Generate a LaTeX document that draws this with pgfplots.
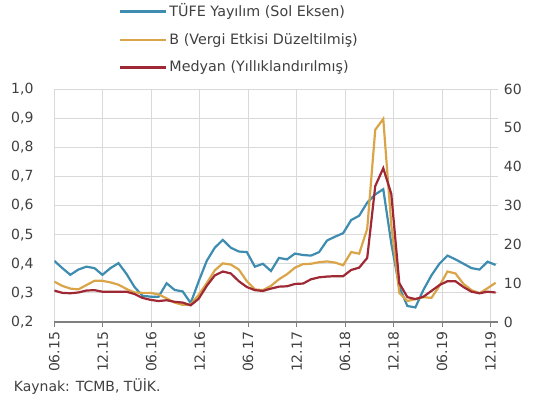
\documentclass[border=0pt]{standalone}
\usepackage{fontspec}
\setmainfont{DejaVu Sans}
\usepackage{pgfplots}
\pgfplotsset{compat=1.18}
\definecolor{cblue}{RGB}{62,140,176}
\definecolor{corange}{RGB}{218,165,72}
\definecolor{cred}{RGB}{158,40,52}
\definecolor{cgrid}{RGB}{217,217,217}
\definecolor{caxis}{RGB}{128,128,128}
\definecolor{ctext}{RGB}{64,64,64}
\begin{document}
\fontsize{14bp}{17bp}\selectfont
\begin{tikzpicture}
\useasboundingbox (0,0) rectangle (537bp,405bp);
\pgfplotsset{
  common/.style={
    at={(54.3bp,83bp)}, anchor=south west,
    scale only axis, width=443.7bp, height=233bp,
    xmin=0, xmax=55.3,
    /pgf/number format/assume math mode=true,
    tick label style={font=\fontsize{14bp}{17bp}\selectfont, text=ctext},
  }
}
\begin{axis}[
  common,
  ymin=0.2, ymax=1.0,
  ytick={0.2,0.3,0.4,0.5,0.6,0.7,0.8,0.9,1.0},
  /pgf/number format/fixed, /pgf/number format/fixed zerofill,
  /pgf/number format/precision=1, /pgf/number format/use comma,
  yticklabel style={xshift=-11bp},
  xtick={0,6.04,12.08,18.12,24.16,30.2,36.24,42.28,48.32,54.36},
  xticklabels={06.15,12.15,06.16,12.16,06.17,12.17,06.18,12.18,06.19,12.19},
  xticklabel style={rotate=90, anchor=east},
  axis x line*=bottom, axis y line*=left,
  x axis line style={caxis, line width=1.2bp, -},
  y axis line style={draw=none},
  ytick style={draw=none},
  xtick style={caxis, line width=1bp},
  tick align=outside, major tick length=5bp,
  grid=major, major grid style={cgrid, line width=0.9bp},
  legend style={at={(axis description cs:0.146,1.375)}, anchor=north west,
    draw=none, fill=none, inner sep=0pt, row sep=10.5bp,
    cells={anchor=west}, font=\fontsize{14.3bp}{17bp}\selectfont, text=ctext,
    /tikz/every even column/.append style={column sep=4bp}},
  legend image code/.code={\draw[#1] (0bp,0bp) -- (46bp,0bp);},
]
\addplot[cblue, line width=2.2bp] coordinates {
(0,0.41) (1,0.385) (2,0.362) (3,0.38) (4,0.39) (5,0.385) (6,0.362) (7,0.385)
(8,0.402) (9,0.365) (10,0.32) (11,0.29) (12,0.287) (13,0.287) (14,0.333) (15,0.31)
(16,0.305) (17,0.265) (18,0.34) (19,0.41) (20,0.455) (21,0.482) (22,0.455) (23,0.442)
(24,0.44) (25,0.39) (26,0.40) (27,0.375) (28,0.42) (29,0.415) (30,0.435) (31,0.43)
(32,0.428) (33,0.44) (34,0.48) (35,0.493) (36,0.505) (37,0.55) (38,0.565) (39,0.61)
(40,0.638) (41,0.656) (42,0.47) (43,0.32) (44,0.255) (45,0.25) (46,0.31) (47,0.36)
(48,0.40) (49,0.428) (50,0.415) (51,0.40) (52,0.385) (53,0.38) (54,0.407) (55,0.396)
};
\addlegendentry{TÜFE Yayılım (Sol Eksen)}
\addlegendimage{corange, line width=2.2bp}
\addlegendentry{B (Vergi Etkisi Düzeltilmiş)}
\addlegendimage{cred, line width=2.2bp}
\addlegendentry{Medyan (Yıllıklandırılmış)}
\end{axis}
\begin{axis}[
  common,
  ymin=0, ymax=60,
  ytick={0,10,20,30,40,50,60},
  yticklabel style={xshift=1bp},
  axis x line=none, axis y line*=right,
  y axis line style={draw=none},
  ytick style={draw=none},
  xtick=\empty,
]
\addplot[corange, line width=2.2bp] coordinates {
(0,10.4) (1,9.3) (2,8.6) (3,8.4) (4,9.5) (5,10.6) (6,10.6) (7,10.2)
(8,9.6) (9,8.5) (10,7.6) (11,7.5) (12,7.5) (13,7.1) (14,6.1) (15,5.0)
(16,4.4) (17,4.5) (18,7.0) (19,10.0) (20,13.3) (21,15.1) (22,14.8) (23,13.5)
(24,10.5) (25,8.4) (26,8.2) (27,9.3) (28,11.0) (29,12.3) (30,14.0) (31,14.9)
(32,15.0) (33,15.4) (34,15.6) (35,15.3) (36,14.6) (37,18.0) (38,17.6) (39,24.0)
(40,49.5) (41,52.3) (42,25.0) (43,7.5) (44,5.4) (45,5.9) (46,6.4) (47,6.2)
(48,9.3) (49,13.0) (50,12.5) (51,9.8) (52,8.2) (53,7.4) (54,8.7) (55,10.1)
};
\addplot[cred, line width=2.2bp] coordinates {
(0,8.1) (1,7.5) (2,7.4) (3,7.6) (4,8.1) (5,8.2) (6,7.8) (7,7.8)
(8,7.8) (9,7.8) (10,7.2) (11,6.2) (12,5.7) (13,5.4) (14,5.6) (15,5.2)
(16,5.0) (17,4.3) (18,6.0) (19,9.3) (20,12.0) (21,13.0) (22,12.5) (23,10.5)
(24,9.0) (25,8.2) (26,8.0) (27,8.6) (28,9.1) (29,9.2) (30,9.8) (31,9.9)
(32,11.0) (33,11.5) (34,11.7) (35,11.8) (36,11.8) (37,13.4) (38,14.0) (39,16.5)
(40,35.0) (41,39.6) (42,33.0) (43,10.0) (44,6.4) (45,5.9) (46,6.5) (47,8.0)
(48,9.5) (49,10.5) (50,10.5) (51,9.0) (52,7.8) (53,7.4) (54,7.8) (55,7.6)
};
\end{axis}
\node[anchor=base west, text=ctext, font=\fontsize{14bp}{17bp}\selectfont] at (9bp,14bp) {Kaynak: TCMB, TÜİK.};
\end{tikzpicture}
\end{document}
